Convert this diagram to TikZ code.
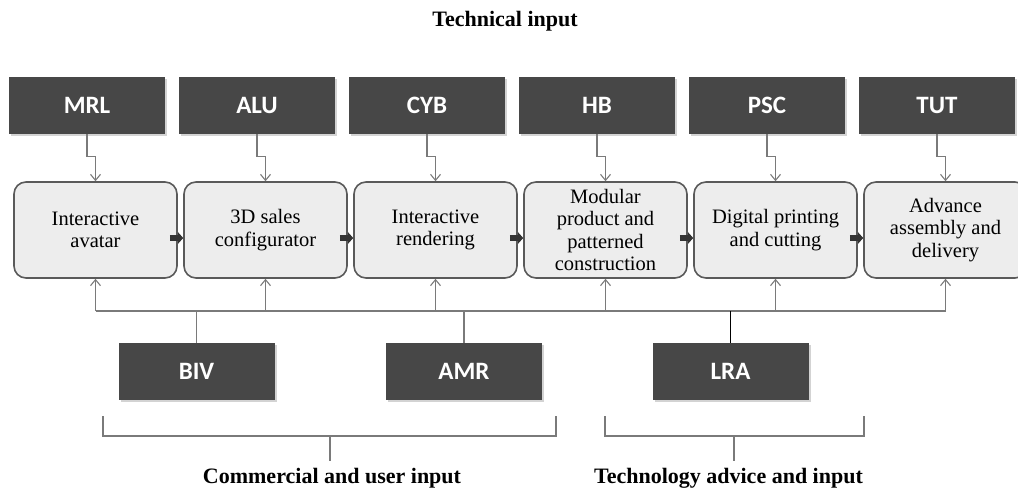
\documentclass[tikz,border=0pt]{standalone}
\usepackage{fontspec}
\setmainfont{Liberation Serif}
\newfontfamily\labelfont{Carlito}
\usepackage{tikz}
\usetikzlibrary{arrows.meta, positioning, shadows}
\definecolor{boxgray}{HTML}{474747}
\definecolor{stagefill}{HTML}{EDEDED}
\definecolor{stageline}{HTML}{5A5A5A}
\definecolor{wire}{HTML}{7A7A7A}
\tikzset{
    partner/.style={rectangle, fill=boxgray, text=white, font=\labelfont\bfseries\fontsize{25}{29}\selectfont, minimum width=156pt, minimum height=57pt, drop shadow={shadow xshift=2pt, shadow yshift=-2pt, opacity=0.35}},
    stage/.style={rectangle, rounded corners=12pt, draw=stageline, line width=1.6pt, fill=stagefill, align=center, font=\fontsize{20.5}{22.5}\selectfont, minimum width=163pt, minimum height=96pt, inner sep=2pt},
    caption/.style={font=\bfseries\fontsize{22}{26}\selectfont},
    wireline/.style={draw=wire, line width=1.1pt},
    feed/.style={wireline, -{Straight Barb[length=6pt, width=10pt]}},
    stepflow/.style={draw=black!80, line width=6pt, -{Triangle[length=5pt, width=11pt]}}
}

\begin{document}
\begin{tikzpicture}[x=1pt, y=-1pt, node distance=5.4pt]
    \useasboundingbox (0,0) rectangle (1018,488);

    \node[caption, anchor=base] (tech) at (505,26) {Technical input};

    % chain of stages
    \node[stage] (avatar) at (95.5,230) {Interactive\\avatar};
    \node[stage, right=of avatar] (config) {3D sales\\configurator};
    \node[stage, right=of config] (render) {Interactive\\rendering};
    \node[stage, right=of render] (modular) {Modular\\product and\\patterned\\construction};
    \node[stage, right=of modular] (print) {Digital printing\\and cutting};
    \node[stage, right=of print] (deliver) {Advance\\assembly and\\delivery};

    % technical partners
    \node[partner, above=47pt of avatar, xshift=-8.5pt] (mrl) {MRL};
    \node[partner, above=47pt of config, xshift=-8.5pt] (alu) {ALU};
    \node[partner, above=47pt of render, xshift=-8.5pt] (cyb) {CYB};
    \node[partner, above=47pt of modular, xshift=-8.5pt] (hb) {HB};
    \node[partner, above=47pt of print, xshift=-8.5pt] (psc) {PSC};
    \node[partner, above=47pt of deliver, xshift=-8.5pt] (tut) {TUT};

    % commercial and advice partners
    \node[partner] (biv) at (196.5,371.5) {BIV};
    \node[partner] (amr) at (464,371.5) {AMR};
    \node[partner] (lra) at (730.5,371.5) {LRA};

    \foreach \t/\s in {mrl/avatar, alu/config, cyb/render, hb/modular, psc/print, tut/deliver}
        \draw[feed] (\t.south) -- ++(0,22) -| (\s.north);

    \foreach \a/\b in {avatar/config, config/render, render/modular, modular/print, print/deliver}
        \draw[stepflow] ([shift={(-8pt,-8pt)}]\a.east) -- ([yshift=-8pt]\b.west);

    % shared bus under the stages
    \coordinate (bus) at (0,311);
    \draw[wireline] (avatar.south |- bus) -- (deliver.south |- bus);
    \foreach \s in {avatar, config, render, modular, print, deliver}
        \draw[feed] (\s.south |- bus) -- (\s.south);
    \draw[wireline] (biv.north) -- (biv.north |- bus);
    \draw[wireline] (amr.north) -- (amr.north |- bus);
    \draw[wireline, draw=black] (lra.north) -- (lra.north |- bus);

    % brackets
    \coordinate (usrL) at (103,416);
    \coordinate (usrR) at (556,416);
    \coordinate (usrM) at (330,436);
    \node[caption, anchor=base] (usrtxt) at (332,483) {Commercial and user input};
    \draw[wireline] (usrL) |- (usrR |- usrM) -- (usrR);
    \draw[wireline, shorten >=3.5pt] (usrM) -- (usrM |- usrtxt.north);

    \coordinate (advL) at (605,416);
    \coordinate (advR) at (864,416);
    \coordinate (advM) at (734,436);
    \node[caption, anchor=base] (advtxt) at (728.5,483) {Technology advice and input};
    \draw[wireline] (advL) |- (advR |- advM) -- (advR);
    \draw[wireline, shorten >=3.5pt] (advM) -- (advM |- advtxt.north);
\end{tikzpicture}
\end{document}
